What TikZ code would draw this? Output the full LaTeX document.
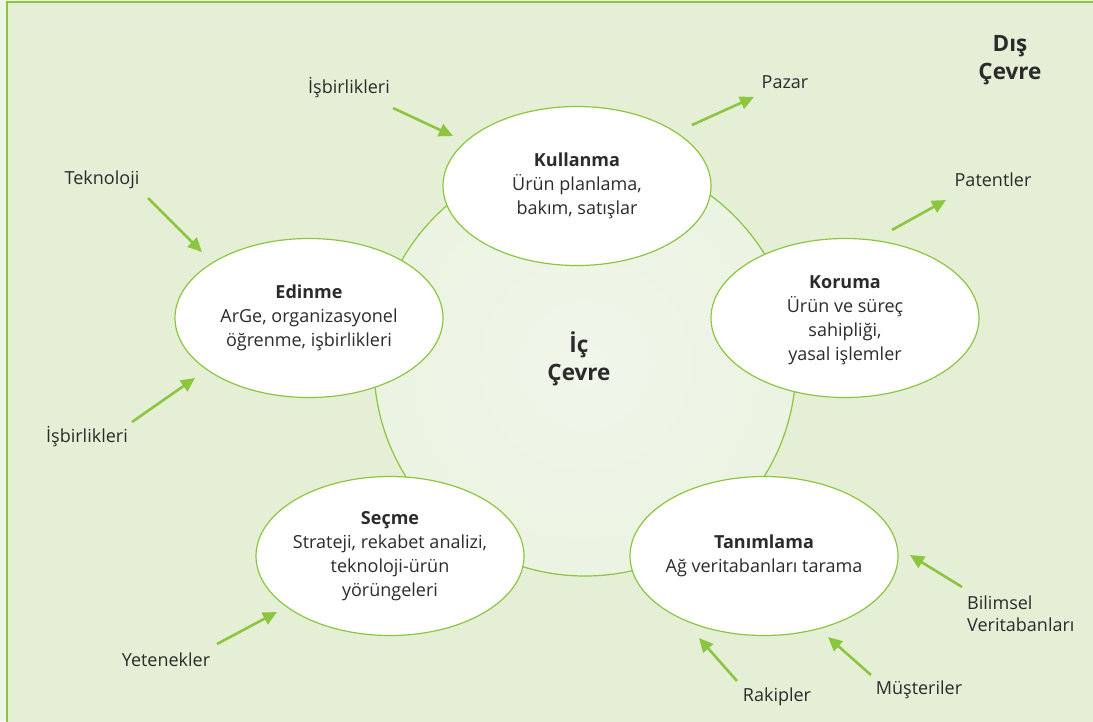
\documentclass[tikz,border=0pt]{standalone}
\usepackage{fontspec}
\setmainfont{Open Sans}
\usetikzlibrary{arrows.meta,shapes.geometric}
\definecolor{bgout}{HTML}{EEF5E8}
\definecolor{bgin}{HTML}{E4EFD6}
\definecolor{leaf}{HTML}{8CC63F}
\definecolor{ink}{HTML}{2B2B2B}
\definecolor{coreA}{HTML}{F0F6EA}
\definecolor{coreB}{HTML}{EBF3E2}
\begin{document}
\begin{tikzpicture}[x=1pt,y=-1pt,
  stage/.style={ellipse, draw=leaf, line width=1.2pt, fill=white,
    minimum width=268pt, minimum height=159pt, inner sep=0pt},
  stagetext/.style={align=center, inner sep=0pt, font=\fontsize{18}{24}\selectfont, text=ink},
  lbl/.style={font=\fontsize{18}{22}\selectfont, text=ink, inner sep=0pt, align=center},
  zone/.style={font=\bfseries\fontsize{22.5}{27.5}\selectfont, text=ink, inner sep=0pt, align=center},
  flow/.style={draw=leaf, line width=2.6pt, -{Triangle[length=14pt,width=13pt]}},
]
\useasboundingbox (0,0) rectangle (1093,721);
\clip (0,0) rectangle (1093,721);

% page and outer frame
\fill[bgout] (0,0) rectangle (1093,721);
\filldraw[fill=bgin, draw=leaf, line width=2pt] (7,2) rectangle (1120,750);

% inner environment disc
\fill[inner color=coreA, outer color=coreB] (585,365) circle (211pt);
\node[circle, draw=leaf, line width=1.2pt, minimum size=422pt, inner sep=0pt] (core) at (585,365) {};
\node[zone] (inner) at (579,359) {İç\\Çevre};
\node[zone] (outer) at (1010,60) {Dış\\Çevre};

% process stages (fixed-size ellipses, text set on top)
\node[stage] (use)   at (577,186) {};
\node[stage] (acq)   at (309,318) {};
\node[stage] (prot)  at (845,318) {};
\node[stage] (sel)   at (390,556) {};
\node[stage] (ident) at (764,556) {};
\node[stagetext] (use-t)   at (use)   {\textbf{Kullanma}\\Ürün planlama,\\bakım, satışlar};
\node[stagetext] (acq-t)   at (acq)   {\textbf{Edinme}\\ArGe, organizasyonel\\öğrenme, işbirlikleri};
\node[stagetext] (prot-t)  at ([yshift=-2pt]prot) {\textbf{Koruma}\\Ürün ve süreç\\sahipliği,\\yasal işlemler};
\node[stagetext] (sel-t)   at (sel)   {\textbf{Seçme}\\Strateji, rekabet analizi,\\teknoloji-ürün\\yörüngeleri};
\node[stagetext] (ident-t) at (ident) {\textbf{Tanımlama}\\Ağ veritabanları tarama};

% external factors
\node[lbl] (coop1) at (349,88) {İşbirlikleri};
\node[lbl] (tech)  at (102,180) {Teknoloji};
\node[lbl] (coop2) at (87,437) {İşbirlikleri};
\node[lbl] (skill) at (166,660) {Yetenekler};
\node[lbl] (market) at (785,82) {Pazar};
\node[lbl] (pat)   at (993,180) {Patentler};
\node[lbl, align=left, anchor=west] (sci) at (967,614) {Bilimsel\\Veritabanları};
\node[lbl] (cust)  at (919,690) {Müşteriler};
\node[lbl] (riv)   at (777,697) {Rakipler};

% arrow end points
\coordinate (c1a) at (393,108);  \coordinate (c1b) at (453,136);
\coordinate (t1a) at (148,198);  \coordinate (t1b) at (202,252);
\coordinate (c2a) at (132,422);  \coordinate (c2b) at (195,378);
\coordinate (s1a) at (217,644);  \coordinate (s1b) at (277,612);
\coordinate (m1a) at (692,125);  \coordinate (m1b) at (754,97);
\coordinate (p1a) at (892,230);  \coordinate (p1b) at (946,200);
\coordinate (b1a) at (962,587);  \coordinate (b1b) at (910,555);
\coordinate (u1a) at (871,675);  \coordinate (u1b) at (828,637);
\coordinate (r1a) at (737,681);  \coordinate (r1b) at (699,638);

\draw[flow] (c1a) -- (c1b);
\draw[flow] (t1a) -- (t1b);
\draw[flow] (c2a) -- (c2b);
\draw[flow] (s1a) -- (s1b);
\draw[flow] (m1a) -- (m1b);
\draw[flow] (p1a) -- (p1b);
\draw[flow] (b1a) -- (b1b);
\draw[flow] (u1a) -- (u1b);
\draw[flow] (r1a) -- (r1b);
\end{tikzpicture}
\end{document}
